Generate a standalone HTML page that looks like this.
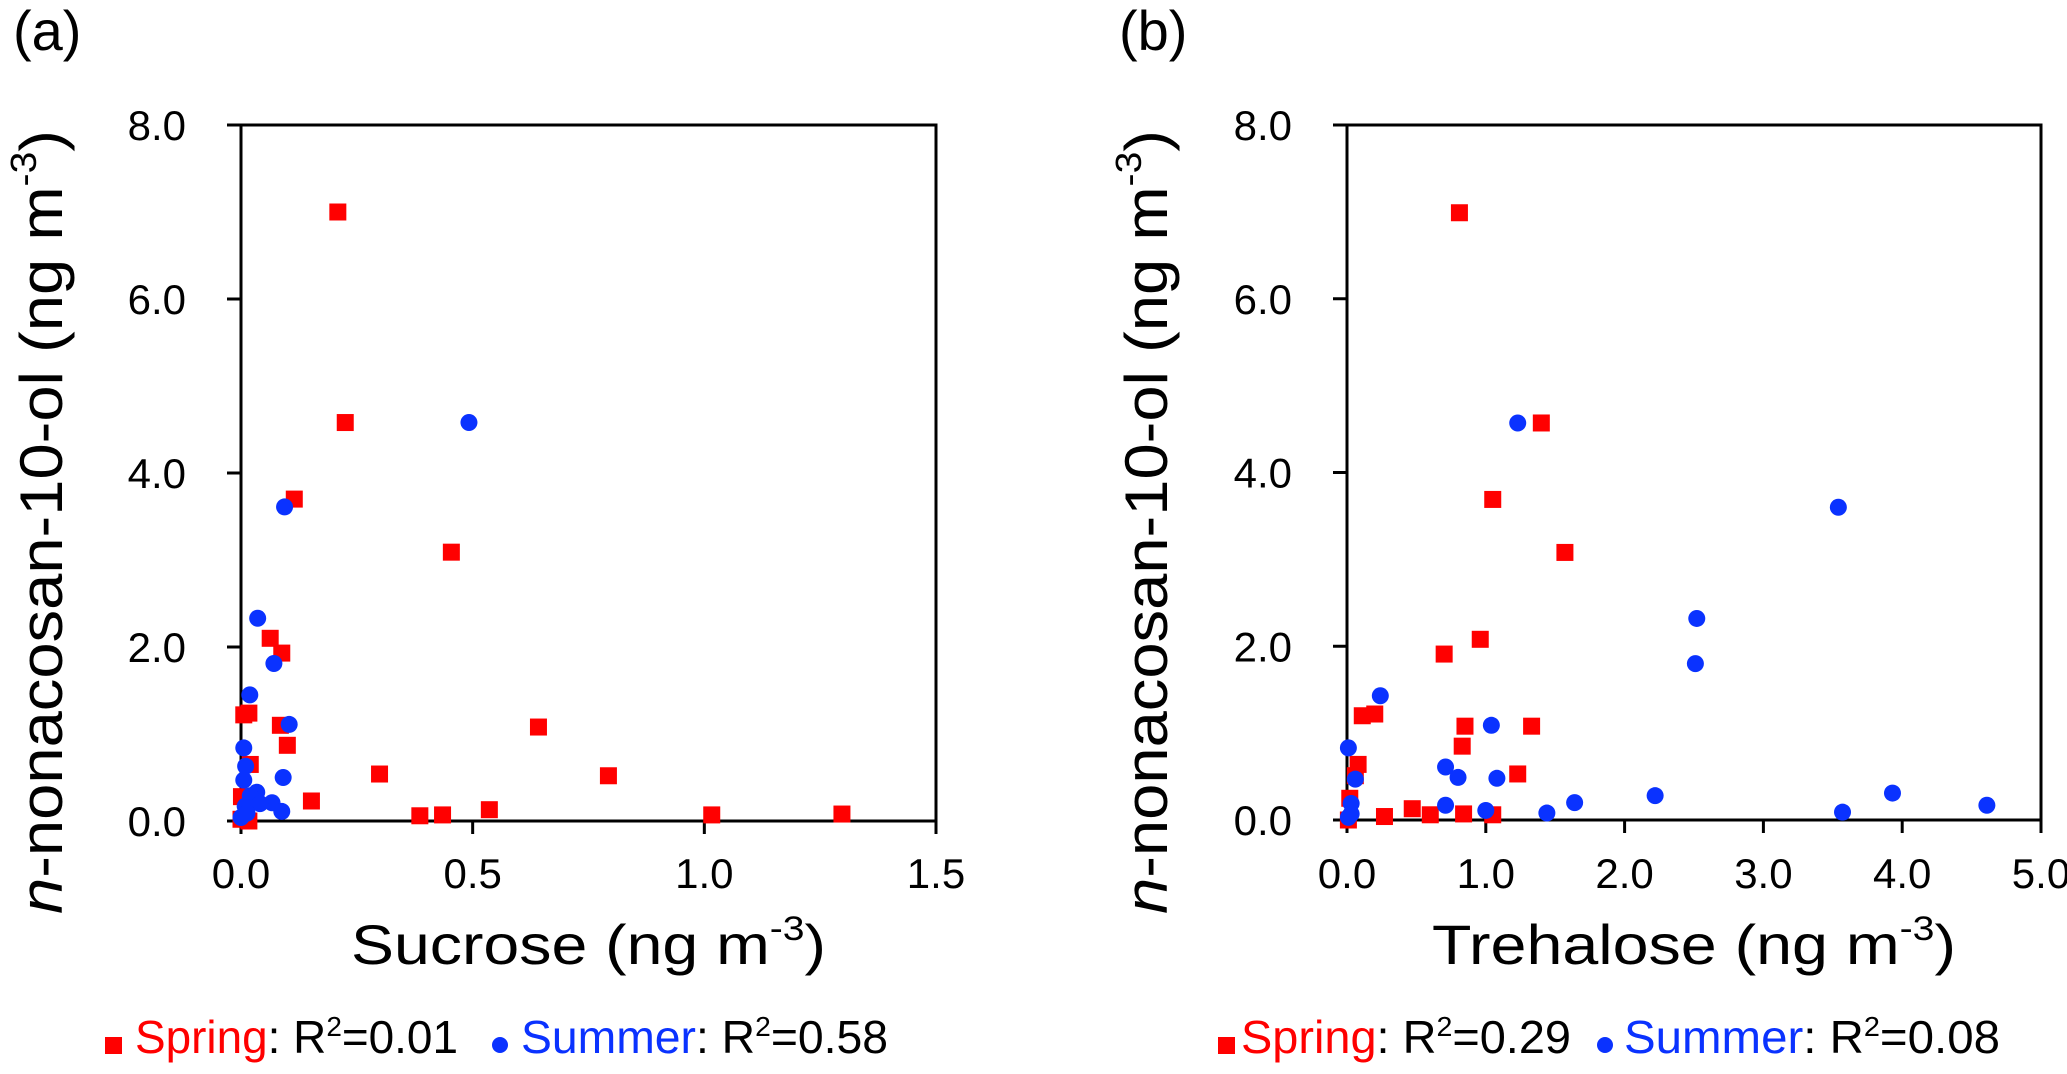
<!DOCTYPE html>
<html><head><meta charset="utf-8"><style>
html,body{margin:0;padding:0;background:#fff}
svg{display:block;font-family:"Liberation Sans",Arial,sans-serif}
</style></head><body>
<svg id="chart" width="2067" height="1074" viewBox="0 0 2067 1074" xmlns="http://www.w3.org/2000/svg"></svg>
<script>
const aSpringX=[0.209,0.225,0.115,0.454,0.063,0.088,0.006,0.017,0.085,0.10,0.02,0.299,0.642,0.793,0.152,0.386,0.435,0.536,1.016,1.297,0.001,0.017,0.0];
const aSpringY=[7.0,4.58,3.70,3.09,2.10,1.93,1.22,1.24,1.10,0.87,0.65,0.54,1.08,0.52,0.23,0.06,0.07,0.13,0.07,0.08,0.28,0.0,0.02];
const aSummerX=[0.492,0.094,0.036,0.071,0.019,0.104,0.006,0.01,0.091,0.006,0.034,0.02,0.067,0.041,0.088,0.009,0.013,0.0];
const aSummerY=[4.58,3.61,2.33,1.81,1.45,1.11,0.84,0.63,0.50,0.47,0.33,0.29,0.21,0.20,0.11,0.17,0.09,0.04];
const bSpringX=[0.81,1.40,1.05,1.57,0.96,0.70,0.11,0.20,0.85,1.33,0.83,0.08,0.06,1.23,0.02,0.47,0.60,0.27,0.84,1.05,0.01];
const bSpringY=[6.99,4.57,3.69,3.08,2.08,1.91,1.20,1.22,1.08,1.08,0.85,0.64,0.51,0.53,0.25,0.13,0.06,0.04,0.07,0.06,0.0];
const bSummerX=[1.23,3.54,2.52,2.51,0.24,1.04,0.01,0.71,0.80,1.08,0.06,2.22,3.93,1.64,4.61,0.71,1.00,1.44,3.57,0.03,0.03,0.01];
const bSummerY=[4.57,3.60,2.32,1.80,1.43,1.09,0.83,0.61,0.49,0.48,0.47,0.28,0.31,0.20,0.17,0.17,0.11,0.08,0.09,0.19,0.07,0.03];
const yTicks=["0.0","2.0","4.0","6.0","8.0"];
const aXTicks=["0.0","0.5","1.0","1.5"];
const bXTicks=["0.0","1.0","2.0","3.0","4.0","5.0"];

const NS="http://www.w3.org/2000/svg";
const svg=document.getElementById('chart');
function mk(tag,attrs,parent){const e=document.createElementNS(NS,tag);for(const k in attrs)e.setAttribute(k,attrs[k]);(parent||svg).appendChild(e);return e;}

function panel(o){
  const g=mk('g',{});
  
  
  const L=o.x0,R=o.x1,T=125,B=o.B;
  const sx=v=>L+(v/o.xmax)*(R-L);
  const sy=v=>B-(v/8)*(B-T);
  const lab=mk('text',{x:o.labX,y:50,'font-size':56,fill:'#000'},g);lab.textContent=o.label;
  
  
  const fr=mk('rect',{x:L,y:T,width:R-L,height:B-T,fill:'none',stroke:'#000','stroke-width':3},g);
  
  
  yTicks.forEach(t=>{const y=sy(parseFloat(t));
    mk('line',{x1:L-14,x2:L,y1:y,y2:y,stroke:'#000','stroke-width':3},g);
    const tx=mk('text',{x:L-55,y:y+15,'font-size':42,'text-anchor':'end'},g);tx.textContent=t;
    
    });
  o.xticks.forEach(t=>{const x=sx(parseFloat(t));
    mk('line',{x1:x,x2:x,y1:B,y2:B+13,stroke:'#000','stroke-width':3},g);
    const tx=mk('text',{x:x,y:888,'font-size':42,'text-anchor':'middle'},g);tx.textContent=t;
    
    });
  o.spX.forEach((v,i)=>{const r=mk('rect',{x:sx(v)-8.5,y:sy(o.spY[i])-8.5,width:17,height:17,fill:'#ff0000'},g);
    
    });
  o.suX.forEach((v,i)=>{const c=mk('circle',{cx:sx(v),cy:sy(o.suY[i]),r:8.5,fill:'#0a32ff'},g);
    
    });
  const xt=mk('text',{x:(L+R)/2,y:964,'font-size':56,'text-anchor':'middle',textLength:o.xtLen,lengthAdjust:'spacingAndGlyphs'},g);
  xt.innerHTML=o.xtitle+' (ng m<tspan font-size="34" dy="-24">-3</tspan><tspan dy="24">)</tspan>';
  
  
  const yt=mk('text',{x:0,y:0,'font-size':60,'text-anchor':'middle',textLength:784,lengthAdjust:'spacingAndGlyphs',transform:`translate(${o.ytX},522) rotate(-90)`},g);
  yt.innerHTML='<tspan font-style="italic">n</tspan>-nonacosan-10-ol (ng m<tspan font-size="36" dy="-26">-3</tspan><tspan dy="26">)</tspan>';
  
  
  const sq=mk('rect',{x:o.lg.sq,y:1037,width:17,height:17,fill:'#ff0000'},g);
  
  
  const t1=mk('text',{x:o.lg.t1,y:1053,'font-size':46,textLength:o.lg.t1len,lengthAdjust:'spacingAndGlyphs'},g);
  t1.innerHTML='<tspan fill="#ff0000">Spring</tspan>: R<tspan font-size="28" dy="-17">2</tspan><tspan dy="17">='+o.r2a+'</tspan>';
  
  
  const ci=mk('circle',{cx:o.lg.ci,cy:1045,r:8,fill:'#0a32ff'},g);
  
  
  const t2=mk('text',{x:o.lg.t2,y:1053,'font-size':46,textLength:o.lg.t2len,lengthAdjust:'spacingAndGlyphs'},g);
  t2.innerHTML='<tspan fill="#0a32ff">Summer</tspan>: R<tspan font-size="28" dy="-17">2</tspan><tspan dy="17">='+o.r2b+'</tspan>';
  
  
}
panel({name:'panel-a',label:'(a)',labX:13,x0:241,x1:936,B:821,xmax:1.5,xticks:aXTicks,spX:aSpringX,spY:aSpringY,suX:aSummerX,suY:aSummerY,
  xtitle:'Sucrose',xtLen:475,ytX:62,lg:{sq:105,t1:135,t1len:323,ci:500,t2:521,t2len:367},r2a:'0.01',r2b:'0.58'});
panel({name:'panel-b',label:'(b)',labX:1119,x0:1347,x1:2041,B:820,xmax:5,xticks:bXTicks,spX:bSpringX,spY:bSpringY,suX:bSummerX,suY:bSummerY,
  xtitle:'Trehalose',xtLen:524,ytX:1167,lg:{sq:1218,t1:1241,t1len:330,ci:1605,t2:1624,t2len:376},r2a:'0.29',r2b:'0.08'});
</script>
</body></html>
